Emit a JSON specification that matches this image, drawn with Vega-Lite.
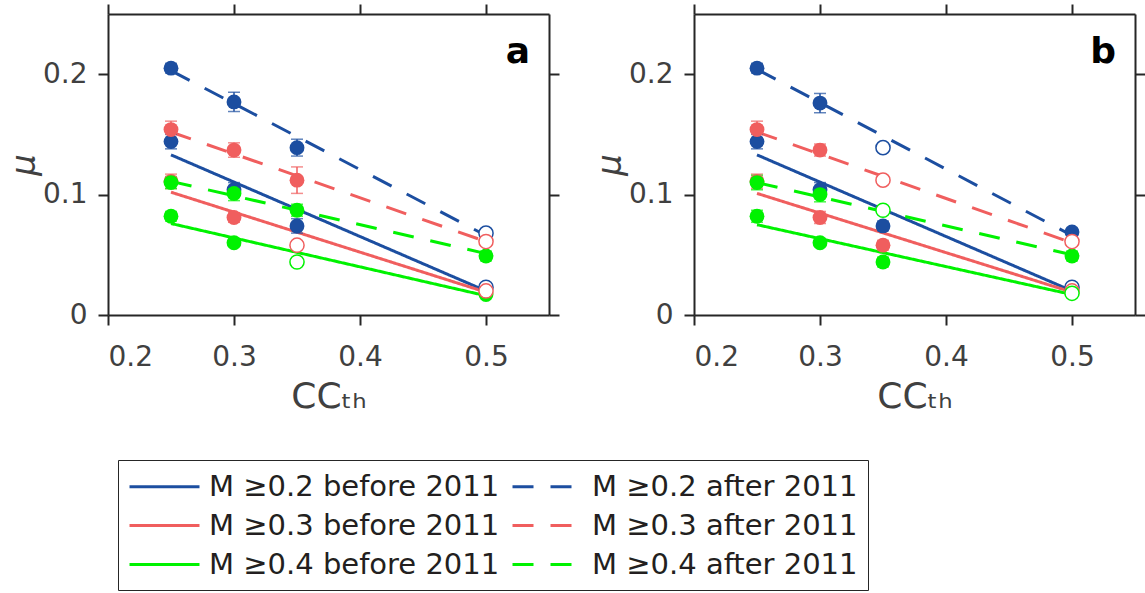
{
  "$schema": "https://vega.github.io/schema/vega-lite/v6.json",
  "padding": {"left": 7, "top": 3, "right": 0, "bottom": 0},
  "background": "white",
  "datasets": {
    "main": [
      {"panel": "a", "kind": "fit", "series": "M ≥0.2 after 2011", "x": 0.25, "mu": 0.203},
      {"panel": "a", "kind": "fit", "series": "M ≥0.2 after 2011", "x": 0.5, "mu": 0.066},
      {"panel": "a", "kind": "fit", "series": "M ≥0.2 before 2011", "x": 0.25, "mu": 0.133},
      {"panel": "a", "kind": "fit", "series": "M ≥0.2 before 2011", "x": 0.5, "mu": 0.020},
      {"panel": "a", "kind": "fit", "series": "M ≥0.3 after 2011", "x": 0.25, "mu": 0.152},
      {"panel": "a", "kind": "fit", "series": "M ≥0.3 after 2011", "x": 0.5, "mu": 0.061},
      {"panel": "a", "kind": "fit", "series": "M ≥0.3 before 2011", "x": 0.25, "mu": 0.102},
      {"panel": "a", "kind": "fit", "series": "M ≥0.3 before 2011", "x": 0.5, "mu": 0.019},
      {"panel": "a", "kind": "fit", "series": "M ≥0.4 after 2011", "x": 0.25, "mu": 0.111},
      {"panel": "a", "kind": "fit", "series": "M ≥0.4 after 2011", "x": 0.5, "mu": 0.051},
      {"panel": "a", "kind": "fit", "series": "M ≥0.4 before 2011", "x": 0.25, "mu": 0.076},
      {"panel": "a", "kind": "fit", "series": "M ≥0.4 before 2011", "x": 0.5, "mu": 0.016},

      {"panel": "b", "kind": "fit", "series": "M ≥0.2 after 2011", "x": 0.25, "mu": 0.204},
      {"panel": "b", "kind": "fit", "series": "M ≥0.2 after 2011", "x": 0.5, "mu": 0.066},
      {"panel": "b", "kind": "fit", "series": "M ≥0.2 before 2011", "x": 0.25, "mu": 0.133},
      {"panel": "b", "kind": "fit", "series": "M ≥0.2 before 2011", "x": 0.5, "mu": 0.020},
      {"panel": "b", "kind": "fit", "series": "M ≥0.3 after 2011", "x": 0.25, "mu": 0.152},
      {"panel": "b", "kind": "fit", "series": "M ≥0.3 after 2011", "x": 0.5, "mu": 0.060},
      {"panel": "b", "kind": "fit", "series": "M ≥0.3 before 2011", "x": 0.25, "mu": 0.101},
      {"panel": "b", "kind": "fit", "series": "M ≥0.3 before 2011", "x": 0.5, "mu": 0.019},
      {"panel": "b", "kind": "fit", "series": "M ≥0.4 after 2011", "x": 0.25, "mu": 0.110},
      {"panel": "b", "kind": "fit", "series": "M ≥0.4 after 2011", "x": 0.5, "mu": 0.050},
      {"panel": "b", "kind": "fit", "series": "M ≥0.4 before 2011", "x": 0.25, "mu": 0.075},
      {"panel": "b", "kind": "fit", "series": "M ≥0.4 before 2011", "x": 0.5, "mu": 0.017},

      {"panel": "a", "kind": "obs", "series": "M ≥0.2 after 2011", "x": 0.25, "mu": 0.205, "err": 0.004, "marker": "filled"},
      {"panel": "a", "kind": "obs", "series": "M ≥0.2 after 2011", "x": 0.3, "mu": 0.177, "err": 0.008, "marker": "filled"},
      {"panel": "a", "kind": "obs", "series": "M ≥0.2 after 2011", "x": 0.35, "mu": 0.139, "err": 0.007, "marker": "filled"},
      {"panel": "a", "kind": "obs", "series": "M ≥0.2 after 2011", "x": 0.5, "mu": 0.068, "err": 0, "marker": "open"},
      {"panel": "a", "kind": "obs", "series": "M ≥0.2 before 2011", "x": 0.25, "mu": 0.144, "err": 0.006, "marker": "filled"},
      {"panel": "a", "kind": "obs", "series": "M ≥0.2 before 2011", "x": 0.3, "mu": 0.104, "err": 0.006, "marker": "filled"},
      {"panel": "a", "kind": "obs", "series": "M ≥0.2 before 2011", "x": 0.35, "mu": 0.074, "err": 0.006, "marker": "filled"},
      {"panel": "a", "kind": "obs", "series": "M ≥0.2 before 2011", "x": 0.5, "mu": 0.023, "err": 0, "marker": "open"},
      {"panel": "a", "kind": "obs", "series": "M ≥0.3 after 2011", "x": 0.25, "mu": 0.154, "err": 0.007, "marker": "filled"},
      {"panel": "a", "kind": "obs", "series": "M ≥0.3 after 2011", "x": 0.3, "mu": 0.137, "err": 0.006, "marker": "filled"},
      {"panel": "a", "kind": "obs", "series": "M ≥0.3 after 2011", "x": 0.35, "mu": 0.112, "err": 0.011, "marker": "filled"},
      {"panel": "a", "kind": "obs", "series": "M ≥0.3 after 2011", "x": 0.5, "mu": 0.061, "err": 0, "marker": "open"},
      {"panel": "a", "kind": "obs", "series": "M ≥0.3 before 2011", "x": 0.25, "mu": 0.111, "err": 0.006, "marker": "filled"},
      {"panel": "a", "kind": "obs", "series": "M ≥0.3 before 2011", "x": 0.3, "mu": 0.081, "err": 0.004, "marker": "filled"},
      {"panel": "a", "kind": "obs", "series": "M ≥0.3 before 2011", "x": 0.35, "mu": 0.058, "err": 0, "marker": "open"},
      {"panel": "a", "kind": "obs", "series": "M ≥0.3 before 2011", "x": 0.5, "mu": 0.020, "err": 0, "marker": "open"},
      {"panel": "a", "kind": "obs", "series": "M ≥0.4 after 2011", "x": 0.25, "mu": 0.110, "err": 0.005, "marker": "filled"},
      {"panel": "a", "kind": "obs", "series": "M ≥0.4 after 2011", "x": 0.3, "mu": 0.101, "err": 0.006, "marker": "filled"},
      {"panel": "a", "kind": "obs", "series": "M ≥0.4 after 2011", "x": 0.35, "mu": 0.087, "err": 0.005, "marker": "filled"},
      {"panel": "a", "kind": "obs", "series": "M ≥0.4 after 2011", "x": 0.5, "mu": 0.049, "err": 0.004, "marker": "filled"},
      {"panel": "a", "kind": "obs", "series": "M ≥0.4 before 2011", "x": 0.25, "mu": 0.082, "err": 0.004, "marker": "filled"},
      {"panel": "a", "kind": "obs", "series": "M ≥0.4 before 2011", "x": 0.3, "mu": 0.060, "err": 0.003, "marker": "filled"},
      {"panel": "a", "kind": "obs", "series": "M ≥0.4 before 2011", "x": 0.35, "mu": 0.044, "err": 0, "marker": "open"},
      {"panel": "a", "kind": "obs", "series": "M ≥0.4 before 2011", "x": 0.5, "mu": 0.017, "err": 0.002, "marker": "filled"},

      {"panel": "b", "kind": "obs", "series": "M ≥0.2 after 2011", "x": 0.25, "mu": 0.205, "err": 0.004, "marker": "filled"},
      {"panel": "b", "kind": "obs", "series": "M ≥0.2 after 2011", "x": 0.3, "mu": 0.176, "err": 0.008, "marker": "filled"},
      {"panel": "b", "kind": "obs", "series": "M ≥0.2 after 2011", "x": 0.35, "mu": 0.139, "err": 0, "marker": "open"},
      {"panel": "b", "kind": "obs", "series": "M ≥0.2 after 2011", "x": 0.5, "mu": 0.069, "err": 0.003, "marker": "filled"},
      {"panel": "b", "kind": "obs", "series": "M ≥0.2 before 2011", "x": 0.25, "mu": 0.144, "err": 0.006, "marker": "filled"},
      {"panel": "b", "kind": "obs", "series": "M ≥0.2 before 2011", "x": 0.3, "mu": 0.104, "err": 0.006, "marker": "filled"},
      {"panel": "b", "kind": "obs", "series": "M ≥0.2 before 2011", "x": 0.35, "mu": 0.074, "err": 0.004, "marker": "filled"},
      {"panel": "b", "kind": "obs", "series": "M ≥0.2 before 2011", "x": 0.5, "mu": 0.023, "err": 0, "marker": "open"},
      {"panel": "b", "kind": "obs", "series": "M ≥0.3 after 2011", "x": 0.25, "mu": 0.154, "err": 0.007, "marker": "filled"},
      {"panel": "b", "kind": "obs", "series": "M ≥0.3 after 2011", "x": 0.3, "mu": 0.137, "err": 0.005, "marker": "filled"},
      {"panel": "b", "kind": "obs", "series": "M ≥0.3 after 2011", "x": 0.35, "mu": 0.112, "err": 0, "marker": "open"},
      {"panel": "b", "kind": "obs", "series": "M ≥0.3 after 2011", "x": 0.5, "mu": 0.061, "err": 0, "marker": "open"},
      {"panel": "b", "kind": "obs", "series": "M ≥0.3 before 2011", "x": 0.25, "mu": 0.111, "err": 0.006, "marker": "filled"},
      {"panel": "b", "kind": "obs", "series": "M ≥0.3 before 2011", "x": 0.3, "mu": 0.081, "err": 0.005, "marker": "filled"},
      {"panel": "b", "kind": "obs", "series": "M ≥0.3 before 2011", "x": 0.35, "mu": 0.058, "err": 0.004, "marker": "filled"},
      {"panel": "b", "kind": "obs", "series": "M ≥0.3 before 2011", "x": 0.5, "mu": 0.020, "err": 0, "marker": "open"},
      {"panel": "b", "kind": "obs", "series": "M ≥0.4 after 2011", "x": 0.25, "mu": 0.110, "err": 0.006, "marker": "filled"},
      {"panel": "b", "kind": "obs", "series": "M ≥0.4 after 2011", "x": 0.3, "mu": 0.100, "err": 0.006, "marker": "filled"},
      {"panel": "b", "kind": "obs", "series": "M ≥0.4 after 2011", "x": 0.35, "mu": 0.087, "err": 0, "marker": "open"},
      {"panel": "b", "kind": "obs", "series": "M ≥0.4 after 2011", "x": 0.5, "mu": 0.049, "err": 0.004, "marker": "filled"},
      {"panel": "b", "kind": "obs", "series": "M ≥0.4 before 2011", "x": 0.25, "mu": 0.082, "err": 0.005, "marker": "filled"},
      {"panel": "b", "kind": "obs", "series": "M ≥0.4 before 2011", "x": 0.3, "mu": 0.060, "err": 0.003, "marker": "filled"},
      {"panel": "b", "kind": "obs", "series": "M ≥0.4 before 2011", "x": 0.35, "mu": 0.044, "err": 0.004, "marker": "filled"},
      {"panel": "b", "kind": "obs", "series": "M ≥0.4 before 2011", "x": 0.5, "mu": 0.018, "err": 0, "marker": "open"}
    ]
  },
  "spacing": 33,
  "hconcat": [
    {
      "width": 441, "height": 301,
      "title": {"text": "a", "anchor": "end", "orient": "top", "offset": -68, "dx": -30},
      "data": {"name": "main"},
      "transform": [{"filter": "datum.panel == 'a'"}],
      "layer": [
        {
          "transform": [{"filter": "datum.kind == 'fit'"}],
          "mark": {"type": "line", "strokeWidth": 3},
          "encoding": {
            "x": {"field": "x", "type": "quantitative", "scale": {"domain": [0.2, 0.55], "nice": false, "zero": false},
                  "axis": {"orient": "bottom", "values": [0.2, 0.3, 0.4, 0.5], "format": "~g", "title": "CCₜₕ", "labelPadding": 18, "titlePadding": 8}},
            "y": {"field": "mu", "type": "quantitative", "scale": {"domain": [0, 0.25], "nice": false, "zero": true},
                  "axis": {"orient": "left", "values": [0, 0.1, 0.2], "format": "~g", "title": "μ", "labelPadding": 11, "titlePadding": 1, "titleFontStyle": "italic", "titleFontSize": 34}},
            "color": {"field": "series", "type": "nominal",
                      "scale": {"domain": ["M ≥0.2 before 2011", "M ≥0.3 before 2011", "M ≥0.4 before 2011", "M ≥0.2 after 2011", "M ≥0.3 after 2011", "M ≥0.4 after 2011"],
                                "range": ["#1c4ea0", "#f05e5e", "#00f200", "#1c4ea0", "#f05e5e", "#00f200"]},
                      "legend": {"orient": "none", "legendX": 10, "legendY": 446}},
            "strokeDash": {"field": "series", "type": "nominal",
                      "scale": {"domain": ["M ≥0.2 before 2011", "M ≥0.3 before 2011", "M ≥0.4 before 2011", "M ≥0.2 after 2011", "M ≥0.3 after 2011", "M ≥0.4 after 2011"],
                                "range": [[1, 0], [1, 0], [1, 0], [21, 17], [21, 17], [21, 17]]},
                      "legend": {"orient": "none", "legendX": 10, "legendY": 446}}
          }
        },
        {
          "transform": [{"filter": "datum.kind == 'obs' && datum.err > 0"}],
          "mark": {"type": "errorbar", "ticks": {"size": 12}, "thickness": 1.5},
          "encoding": {
            "x": {"field": "x", "type": "quantitative", "axis": null},
            "y": {"field": "mu", "type": "quantitative", "axis": null},
            "yError": {"field": "err"},
            "color": {"field": "series", "type": "nominal"}
          }
        },
        {
          "transform": [{"filter": "datum.kind == 'obs' && datum.marker == 'filled'"}],
          "mark": {"type": "point", "filled": true, "size": 220, "opacity": 1},
          "encoding": {
            "x": {"field": "x", "type": "quantitative", "axis": {"orient": "top", "values": [0.2, 0.3, 0.4, 0.5], "labels": false, "title": null}},
            "y": {"field": "mu", "type": "quantitative", "axis": {"orient": "right", "values": [0, 0.1, 0.2], "labels": false, "title": null}},
            "color": {"field": "series", "type": "nominal"}
          }
        },
        {
          "transform": [{"filter": "datum.kind == 'obs' && datum.marker == 'open'"}],
          "mark": {"type": "point", "filled": false, "fill": "white", "fillOpacity": 1, "size": 200, "strokeWidth": 1.5, "opacity": 1},
          "encoding": {
            "x": {"field": "x", "type": "quantitative", "axis": null},
            "y": {"field": "mu", "type": "quantitative", "axis": null},
            "color": {"field": "series", "type": "nominal"}
          }
        }
      ],
      "resolve": {"axis": {"x": "independent", "y": "independent"}}
    },
    {
      "width": 441, "height": 301,
      "title": {"text": "b", "anchor": "end", "orient": "top", "offset": -68, "dx": -30},
      "data": {"name": "main"},
      "transform": [{"filter": "datum.panel == 'b'"}],
      "layer": [
        {
          "transform": [{"filter": "datum.kind == 'fit'"}],
          "mark": {"type": "line", "strokeWidth": 3},
          "encoding": {
            "x": {"field": "x", "type": "quantitative", "scale": {"domain": [0.2, 0.55], "nice": false, "zero": false},
                  "axis": {"orient": "bottom", "values": [0.2, 0.3, 0.4, 0.5], "format": "~g", "title": "CCₜₕ", "labelPadding": 18, "titlePadding": 8}},
            "y": {"field": "mu", "type": "quantitative", "scale": {"domain": [0, 0.25], "nice": false, "zero": true},
                  "axis": {"orient": "left", "values": [0, 0.1, 0.2], "format": "~g", "title": "μ", "labelPadding": 11, "titlePadding": 1, "titleFontStyle": "italic", "titleFontSize": 34}},
            "color": {"field": "series", "type": "nominal",
                      "scale": {"domain": ["M ≥0.2 before 2011", "M ≥0.3 before 2011", "M ≥0.4 before 2011", "M ≥0.2 after 2011", "M ≥0.3 after 2011", "M ≥0.4 after 2011"],
                                "range": ["#1c4ea0", "#f05e5e", "#00f200", "#1c4ea0", "#f05e5e", "#00f200"]},
                      "legend": {"orient": "none", "legendX": 10, "legendY": 446}},
            "strokeDash": {"field": "series", "type": "nominal",
                      "scale": {"domain": ["M ≥0.2 before 2011", "M ≥0.3 before 2011", "M ≥0.4 before 2011", "M ≥0.2 after 2011", "M ≥0.3 after 2011", "M ≥0.4 after 2011"],
                                "range": [[1, 0], [1, 0], [1, 0], [21, 17], [21, 17], [21, 17]]},
                      "legend": {"orient": "none", "legendX": 10, "legendY": 446}}
          }
        },
        {
          "transform": [{"filter": "datum.kind == 'obs' && datum.err > 0"}],
          "mark": {"type": "errorbar", "ticks": {"size": 12}, "thickness": 1.5},
          "encoding": {
            "x": {"field": "x", "type": "quantitative", "axis": null},
            "y": {"field": "mu", "type": "quantitative", "axis": null},
            "yError": {"field": "err"},
            "color": {"field": "series", "type": "nominal"}
          }
        },
        {
          "transform": [{"filter": "datum.kind == 'obs' && datum.marker == 'filled'"}],
          "mark": {"type": "point", "filled": true, "size": 220, "opacity": 1},
          "encoding": {
            "x": {"field": "x", "type": "quantitative", "axis": {"orient": "top", "values": [0.2, 0.3, 0.4, 0.5], "labels": false, "title": null}},
            "y": {"field": "mu", "type": "quantitative", "axis": {"orient": "right", "values": [0, 0.1, 0.2], "labels": false, "title": null}},
            "color": {"field": "series", "type": "nominal"}
          }
        },
        {
          "transform": [{"filter": "datum.kind == 'obs' && datum.marker == 'open'"}],
          "mark": {"type": "point", "filled": false, "fill": "white", "fillOpacity": 1, "size": 200, "strokeWidth": 1.5, "opacity": 1},
          "encoding": {
            "x": {"field": "x", "type": "quantitative", "axis": null},
            "y": {"field": "mu", "type": "quantitative", "axis": null},
            "color": {"field": "series", "type": "nominal"}
          }
        }
      ],
      "resolve": {"axis": {"x": "independent", "y": "independent"}}
    }
  ],
  "config": {
    "view": {"stroke": null},
    "font": "DejaVu Sans",
    "title": {"font": "DejaVu Sans", "fontSize": 36, "fontWeight": "bold", "color": "black"},
    "axis": {
      "grid": false,
      "domainColor": "#262626", "domainWidth": 2,
      "tickColor": "#262626", "tickWidth": 2, "tickSize": 10,
      "labelFont": "DejaVu Sans", "labelFontSize": 28, "labelColor": "#404040",
      "titleFont": "DejaVu Sans", "titleFontSize": 36, "titleColor": "#404040", "titleFontWeight": "normal"
    },
    "legend": {
      "title": null,
      "columns": 2,
      "symbolType": "M-2.333,0H2.333",
      "symbolSize": 900,
      "symbolOffset": 20,
      "symbolStrokeWidth": 3,
      "symbolOpacity": 1,
      "labelFont": "DejaVu Sans", "labelFontSize": 29, "labelColor": "#231f20", "labelLimit": 500,
      "labelOffset": 28,
      "strokeColor": "#262626", "fillColor": "white",
      "padding": 10, "columnPadding": 6, "rowPadding": 7
    }
  }
}
